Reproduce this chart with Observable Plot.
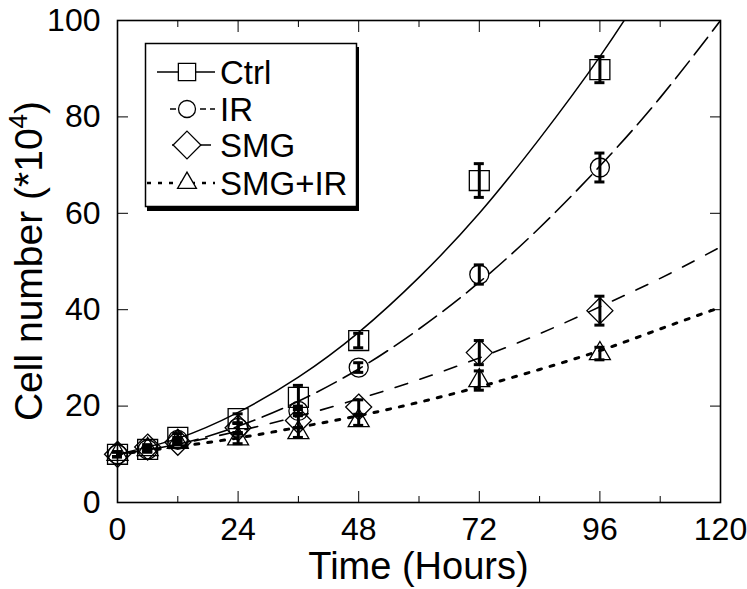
<!DOCTYPE html>
<html><head><meta charset="utf-8">
<script src="https://cdn.jsdelivr.net/npm/d3@7"></script>
<script src="https://cdn.jsdelivr.net/npm/@observablehq/plot@0.6"></script>
<style>html,body{margin:0;padding:0;background:#fff} svg{display:block}</style>
</head><body><div id="chart"></div>
<script>
// Measured time points (hours)
const times = [0, 6, 12, 24, 36, 48, 72, 96];
const seriesNames = ["Ctrl", "IR", "SMG", "SMG+IR"];
// Mean cell numbers (*10^4)
const ctrlValues  = [10, 11, 13.5, 17.4, 21.8, 33.6, 66.8, 89.8];
const irValues    = [10, 11, 13, 15.5, 19, 28, 47.3, 69.5];
const smgValues   = [10, 11.5, 12.5, 15.5, 17, 19.8, 31.1, 39.8];
const smgirValues = [10, 11, 12.5, 13.2, 14.5, 17, 25.3, 30.9];
// Error bar half-lengths
const ctrlErr  = [0.5, 0.5, 0.8, 1, 2.5, 1.5, 3.5, 2.7];
const irErr    = [0.5, 0.5, 0.5, 1, 1, 1, 2, 3];
const smgErr   = [0.5, 0.5, 0.5, 1, 1.5, 1.5, 2.5, 3];
const smgirErr = [0.5, 0.5, 0.5, 1, 1, 1, 2, 1.3];
// Fitted growth curves
const fitTimes = [0, 12, 24, 36, 48, 60, 72, 84, 96, 108, 120];
const ctrlFit  = [10, 13.3, 18.7, 26, 35.3, 46.7, 60, 75.5, 92.5, 112, 134];
const irFit    = [10, 12.1, 15.8, 21, 27.7, 36, 45.7, 57, 69.8, 84, 100];
const smgFit   = [10, 12.1, 14.8, 17.9, 21.5, 25.5, 30, 35, 40.6, 46.5, 53];
const smgirFit = [10, 11.6, 13.4, 15.6, 18, 20.8, 24, 27.6, 31.5, 36, 40.5];
// Axis ticks
const xTicks = [0, 24, 48, 72, 96, 120];
const xMinorTicks = [12, 36, 60, 84, 108];
const yTicks = [0, 20, 40, 60, 80, 100];
const xTitle = "Time (Hours)";
const yTitle = "Cell number (*10";
const yTitleSup = "4";
const yTitleEnd = ")";

const symbols = ["square2", "circle", "diamond2", "triangle2"];
const radii = [12.7, 9.5, 11.7, 10];
const dashes = [null, "22,8", "13,13", "4,9"];
const lineWidths = [1.5, 1.6, 1.6, 3];
const allValues = [ctrlValues, irValues, smgValues, smgirValues];
const allErr = [ctrlErr, irErr, smgErr, smgirErr];
const allFit = [ctrlFit, irFit, smgFit, smgirFit];

const points = seriesNames.flatMap((s, k) => times.map((t, i) => ({series: s, t, v: allValues[k][i], e: allErr[k][i]})));
const fits = seriesNames.flatMap((s, k) => fitTimes.map((t, i) => ({series: s, t, v: allFit[k][i]})));

const marks = [];
seriesNames.forEach((s, k) => {
  marks.push(Plot.line(fits.filter(d => d.series === s), {
    x: "t", y: "v", stroke: "black", strokeWidth: lineWidths[k],
    strokeDasharray: dashes[k], curve: "natural", clip: true
  }));
});
marks.push(Plot.ruleX(points, {x: "t", y1: d => d.v - d.e, y2: d => d.v + d.e, stroke: "black", strokeWidth: 3}));
marks.push(Plot.ruleY(points, {y: d => d.v + d.e, x1: d => d.t - 1, x2: d => d.t + 1, stroke: "black", strokeWidth: 3}));
marks.push(Plot.ruleY(points, {y: d => d.v - d.e, x1: d => d.t - 1, x2: d => d.t + 1, stroke: "black", strokeWidth: 3}));
seriesNames.forEach((s, k) => {
  marks.push(Plot.dot(points.filter(d => d.series === s), {
    x: "t", y: "v", symbol: symbols[k], r: radii[k], stroke: "black", fill: "none", strokeWidth: 1.3
  }));
});
const noText = () => "";
marks.push(
  Plot.axisX(xTicks, {anchor: "bottom", tickSize: -11, tickPadding: 26, fontSize: 32, label: null}),
  Plot.axisX(xMinorTicks, {anchor: "bottom", tickSize: -6, tickFormat: noText, label: null}),
  Plot.axisX(xTicks, {anchor: "top", tickSize: -11, tickFormat: noText, label: null}),
  Plot.axisX(xMinorTicks, {anchor: "top", tickSize: -6, tickFormat: noText, label: null}),
  Plot.axisY(yTicks, {anchor: "left", tickSize: -11, tickPadding: 28, fontSize: 32, label: null}),
  Plot.axisY(yTicks, {anchor: "right", tickSize: -11, tickFormat: noText, label: null}),
  Plot.frame({stroke: "black", strokeWidth: 1.6})
);

const svg = Plot.plot({
  width: 747, height: 589,
  marginLeft: 117, marginRight: 27, marginTop: 20, marginBottom: 87,
  x: {domain: [0, 120]},
  y: {domain: [0, 100]},
  style: {fontFamily: "'Liberation Sans', Arial, sans-serif", color: "black", background: "white"},
  marks
});
document.getElementById("chart").appendChild(svg);

// Axis titles
const sel = d3.select(svg);
const font = "'Liberation Sans', Arial, sans-serif";
sel.append("text").attr("x", 418.5).attr("y", 579).attr("text-anchor", "middle")
  .attr("font-family", font).attr("font-size", 38).attr("fill", "black").text(xTitle);
const yt = sel.append("text").attr("transform", "translate(42,261) rotate(-90)").attr("text-anchor", "middle")
  .attr("font-family", font).attr("font-size", 39).attr("fill", "black");
yt.append("tspan").text(yTitle);
yt.append("tspan").attr("font-size", 26).attr("dy", -15).text(yTitleSup);
yt.append("tspan").attr("dy", 15).text(yTitleEnd);

// Legend
const lg = sel.append("g").attr("text-anchor", "start");
lg.append("rect").attr("x", 147).attr("y", 47).attr("width", 212).attr("height", 164).attr("fill", "black");
lg.append("rect").attr("x", 145.5).attr("y", 43.5).attr("width", 211).attr("height", 163)
  .attr("fill", "white").attr("stroke", "black").attr("stroke-width", 1.5);
const rowsY = [72, 109, 145, 183];
const lineStart = [157, 170, 172, 147];
seriesNames.forEach((s, k) => {
  const y = rowsY[k];
  lg.append("line").attr("x1", lineStart[k]).attr("x2", 215).attr("y1", y).attr("y2", y)
    .attr("stroke", "black").attr("stroke-width", k === 3 ? 2.5 : lineWidths[k])
    .attr("stroke-dasharray", k === 1 ? "6,4" : k === 3 ? "4,7" : dashes[k]);
  const symType = [d3.symbolSquare2, d3.symbolCircle, d3.symbolDiamond2, d3.symbolTriangle2][k];
  const r = [11, 8.5, 12.5, 9][k];
  lg.append("path").attr("transform", `translate(187,${y})`)
    .attr("d", d3.symbol(symType, Math.PI * r * r)())
    .attr("fill", "white").attr("stroke", "black").attr("stroke-width", 1.3);
  lg.append("text").attr("x", 220).attr("y", y + 12).attr("text-anchor", "start").attr("font-family", font)
    .attr("font-size", 33).attr("fill", "black").text(s);
});
</script>
</body></html>
